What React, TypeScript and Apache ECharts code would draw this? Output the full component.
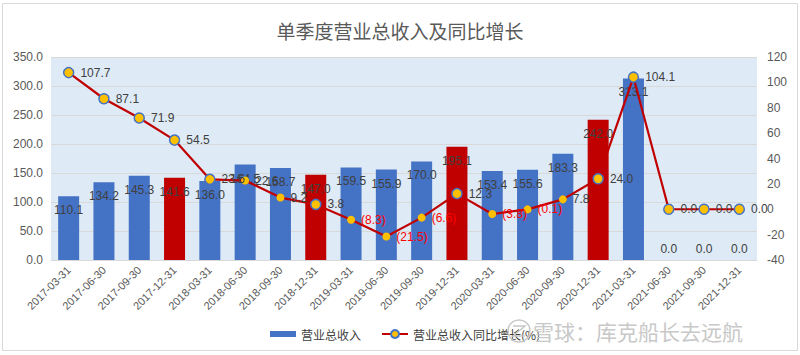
import React, { useEffect, useRef } from "react";
import * as echarts from "echarts";

const categories = [
  "2017-03-31", "2017-06-30", "2017-09-30", "2017-12-31",
  "2018-03-31", "2018-06-30", "2018-09-30", "2018-12-31",
  "2019-03-31", "2019-06-30", "2019-09-30", "2019-12-31",
  "2020-03-31", "2020-06-30", "2020-09-30", "2020-12-31",
  "2021-03-31", "2021-06-30", "2021-09-30", "2021-12-31",
];
const revenue = [
  110.1, 134.2, 145.3, 141.6, 136.0, 164.5, 158.7, 147.0, 159.5, 155.9,
  170.0, 195.1, 153.4, 155.6, 183.3, 242.0, 313.1, 0.0, 0.0, 0.0,
];
const growth = [
  107.7, 87.1, 71.9, 54.5, 23.6, 22.6, 9.2, 3.8, -8.3, -21.5,
  -6.6, 12.3, -3.8, -0.1, 7.8, 24.0, 104.1, 0.0, 0.0, 0.0,
];
// Q4 bars highlighted in red
const highlighted = [3, 7, 11, 15];
// markers drawn with a blue outline
const outlined = [0, 1, 2, 3, 4, 7, 11, 15, 16, 17, 18, 19];

const BLUE = "#4472C4";
const RED = "#C00000";
const GOLD = "#FFC000";
const TXT = "#404040";
const AXT = "#595959";

export default function App() {
  const ref = useRef<HTMLDivElement>(null);
  useEffect(() => {
    if (!ref.current) return;
    const chart = echarts.init(ref.current, null, { renderer: "svg" });
    const barData = revenue.map((v, i) => ({
      value: v,
      itemStyle: { color: highlighted.includes(i) ? RED : BLUE },
      label:
        v === 0
          ? { position: "top", distance: 5 }
          : { position: "insideTop", distance: 8 },
    }));
    const lineData = growth.map((v, i) => ({
      value: v,
      symbolSize: outlined.includes(i) ? 10 : 8,
      itemStyle: {
        color: GOLD,
        borderColor: BLUE,
        borderWidth: outlined.includes(i) ? 1.5 : 0,
      },
      label: { color: v < 0 ? "#FF0000" : TXT },
    }));
    chart.setOption({
      animation: false,
      backgroundColor: "#ffffff",
      title: {
        text: "单季度营业总收入及同比增长",
        left: "center",
        top: 16,
        textStyle: {
          fontSize: 19,
          fontWeight: "normal",
          color: "#595959",
          fontFamily: "Noto Sans CJK SC",
        },
      },
      graphic: [
        {
          type: "rect",
          shape: { x: 2.5, y: 3.5, width: 795, height: 347 },
          style: { fill: "none", stroke: "#D9D9D9", lineWidth: 1 },
          silent: true,
        },
        {
          type: "circle",
          shape: { cx: 519, cy: 331, r: 11 },
          style: { fill: "none", stroke: "#C8C8C8", lineWidth: 1.5 },
          silent: true,
          z: 100,
        },
        {
          type: "polyline",
          shape: { points: [[513, 326], [525, 326], [513, 336], [525, 336]] },
          style: { fill: "none", stroke: "#C8C8C8", lineWidth: 1.5 },
          silent: true,
          z: 100,
        },
        {
          type: "text",
          x: 533,
          y: 331,
          style: {
            text: "雪球：库克船长去远航",
            fontSize: 21,
            fill: "#C8C8C8",
            fontFamily: "Noto Sans CJK SC",
            verticalAlign: "middle",
          },
          silent: true,
          z: 100,
        },
      ],
      legend: {
        left: 265,
        top: 323,
        itemGap: 20,
        itemWidth: 26,
        itemHeight: 10,
        textStyle: { fontSize: 12, color: TXT, fontFamily: "Noto Sans CJK SC" },
        data: [
          { name: "营业总收入", icon: "path://M0,0H26V6H0Z" },
          { name: "营业总收入同比增长(%)" },
        ],
      },
      grid: {
        left: 51,
        right: 43,
        top: 57,
        bottom: 95,
        show: true,
        backgroundColor: "#DEEBF7",
        borderWidth: 0,
      },
      xAxis: {
        type: "category",
        data: categories,
        axisLine: { lineStyle: { color: "#D9D9D9" } },
        axisTick: { show: false },
        axisLabel: {
          rotate: 45,
          fontSize: 11,
          color: AXT,
          interval: 0,
          fontFamily: "Liberation Sans",
        },
      },
      yAxis: [
        {
          type: "value",
          min: 0,
          max: 350,
          interval: 50,
          axisLabel: {
            formatter: (v: number) => v.toFixed(1),
            fontSize: 12,
            color: AXT,
            fontFamily: "Liberation Sans",
          },
          splitLine: { lineStyle: { color: "#D9D9D9" } },
          axisLine: { show: false },
          axisTick: { show: false },
        },
        {
          type: "value",
          min: -40,
          max: 120,
          interval: 20,
          axisLabel: {
            fontSize: 12,
            color: AXT,
            fontFamily: "Liberation Sans",
            margin: 10,
          },
          splitLine: { show: false },
          axisLine: { show: false },
          axisTick: { show: false },
        },
      ],
      series: [
        {
          name: "营业总收入",
          type: "bar",
          data: barData,
          barWidth: 21,
          itemStyle: { color: BLUE },
          label: {
            show: true,
            formatter: (p: any) => Number(p.value).toFixed(1),
            fontSize: 12,
            color: TXT,
            fontFamily: "Liberation Sans",
          },
        },
        {
          name: "营业总收入同比增长(%)",
          type: "line",
          yAxisIndex: 1,
          data: lineData,
          symbol: "circle",
          symbolSize: 9,
          lineStyle: { color: RED, width: 2.2 },
          itemStyle: { color: GOLD, borderColor: BLUE, borderWidth: 1.5 },
          z: 5,
          label: {
            show: true,
            position: "right",
            distance: 6,
            fontSize: 12,
            color: TXT,
            fontFamily: "Liberation Sans",
            formatter: (p: any) => {
              const v = Number(p.value);
              return v < 0 ? `(${Math.abs(v).toFixed(1)})` : v.toFixed(1);
            },
          },
        },
      ],
    });
    return () => chart.dispose();
  }, []);
  return (
    <div
      ref={ref}
      style={{ position: "fixed", left: 0, top: 0, width: 800, height: 355 }}
    />
  );
}
